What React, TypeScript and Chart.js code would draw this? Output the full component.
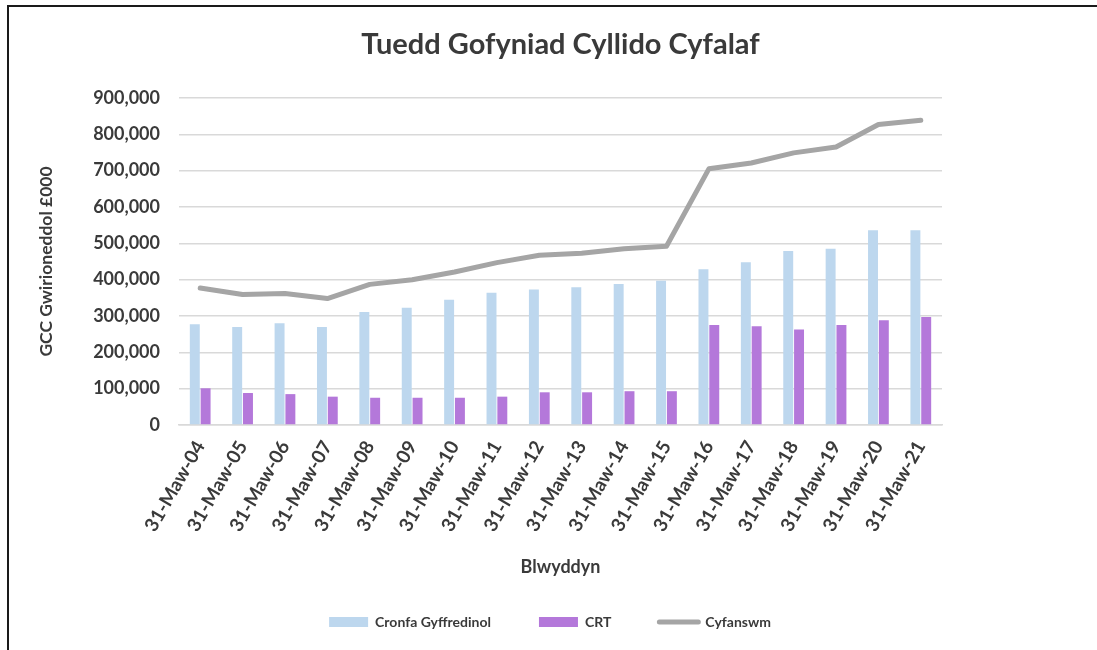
import React, { useEffect, useRef } from 'react';
import { Chart, registerables } from 'chart.js';

Chart.register(...registerables);

const categories = [
  '31-Maw-04', '31-Maw-05', '31-Maw-06', '31-Maw-07', '31-Maw-08', '31-Maw-09',
  '31-Maw-10', '31-Maw-11', '31-Maw-12', '31-Maw-13', '31-Maw-14', '31-Maw-15',
  '31-Maw-16', '31-Maw-17', '31-Maw-18', '31-Maw-19', '31-Maw-20', '31-Maw-21',
];

const cronfaGyffredinol = [
  277000, 270000, 280000, 270000, 311000, 323000, 345000, 364000, 373000,
  379000, 388000, 397000, 429000, 448000, 479000, 485000, 536000, 536000,
];

const crt = [
  101000, 88000, 85000, 78000, 75000, 75000, 75000, 78000, 90000,
  90000, 93000, 93000, 275000, 272000, 263000, 275000, 288000, 297000,
];

const cyfanswm = [
  377000, 359000, 362000, 348000, 387000, 400000, 421000, 447000, 467000,
  473000, 485000, 492000, 705000, 721000, 749000, 765000, 827000, 839000,
];

const seriesNames = ['Cronfa Gyffredinol', 'CRT', 'Cyfanswm'];
const chartTitle = 'Tuedd Gofyniad Cyllido Cyfalaf';
const yAxisTitle = 'GCC Gwirioneddol £000';
const xAxisTitle = 'Blwyddyn';
const yMin = 0;
const yMax = 900000;
const yStep = 100000;

const FONT = 'Lato, "Open Sans", sans-serif';
const TEXT = '#3a3a3a';
const GRID = '#D9D9D9';

export default function App() {
  const ref = useRef<HTMLCanvasElement | null>(null);

  useEffect(() => {
    if (!ref.current) return;
    const chart = new Chart(ref.current, {
      type: 'bar',
      data: {
        labels: categories,
        datasets: [
          {
            type: 'bar',
            label: seriesNames[0],
            data: cronfaGyffredinol,
            backgroundColor: '#BDD7EE',
            categoryPercentage: 0.51,
            barPercentage: 0.92,
            order: 1,
          },
          {
            type: 'bar',
            label: seriesNames[1],
            data: crt,
            backgroundColor: '#B478DA',
            categoryPercentage: 0.51,
            barPercentage: 0.92,
            order: 1,
          },
          {
            type: 'line',
            label: seriesNames[2],
            data: cyfanswm,
            borderColor: '#A5A5A5',
            backgroundColor: '#A5A5A5',
            borderWidth: 5,
            pointRadius: 0,
            tension: 0,
            borderCapStyle: 'round',
            borderJoinStyle: 'round',
            order: 0,
          },
        ],
      } as any,
      options: {
        responsive: false,
        animation: false,
        devicePixelRatio: 1,
        layout: { padding: { left: 3, right: 0, top: 0, bottom: 11 } },
        plugins: {
          tooltip: { enabled: false },
          title: {
            display: true,
            text: chartTitle,
            fullSize: false,
            color: TEXT,
            font: { family: FONT, size: 29, weight: 'bold' },
            padding: { top: 27.6, bottom: 35.6 },
          },
          legend: {
            display: true,
            position: 'bottom',
            fullSize: true,
            labels: {
              color: TEXT,
              font: { family: FONT, size: 14, weight: 'bold' },
              padding: 48,
              usePointStyle: true,
              pointStyleWidth: 39,
              boxHeight: 10,
              generateLabels: (c: any) => {
                const items = (Chart.defaults.plugins.legend.labels as any).generateLabels(c);
                items.sort((a: any, b: any) => a.datasetIndex - b.datasetIndex);
                return items.map((it: any) => {
                  const ds: any = c.data.datasets[it.datasetIndex];
                  if (ds.type === 'line') {
                    return { ...it, pointStyle: 'line', strokeStyle: '#A5A5A5', fillStyle: '#A5A5A5', lineWidth: 5, lineCap: 'round' };
                  }
                  return { ...it, pointStyle: 'rect', lineWidth: 0, strokeStyle: 'rgba(0,0,0,0)' };
                });
              },
            },
          },
        },
        scales: {
          x: {
            grid: { display: false, drawTicks: false },
            border: { display: true, color: GRID, width: 1.5 },
            ticks: {
              color: TEXT,
              font: { family: FONT, size: 19, weight: 'bold' },
              minRotation: 60,
              maxRotation: 60,
              autoSkip: false,
              padding: 12,
            },
            title: {
              display: true,
              text: xAxisTitle,
              color: TEXT,
              font: { family: FONT, size: 18, weight: 'bold' },
              padding: { top: 0, bottom: -10.8 },
            },
            afterFit: (s: any) => { s.height = 142; },
          },
          y: {
            position: 'left',
            min: yMin,
            max: yMax,
            grid: { color: GRID, lineWidth: 1.5, drawTicks: false },
            border: { display: false },
            ticks: {
              stepSize: yStep,
              color: TEXT,
              font: { family: FONT, size: 18, weight: 'bold' },
              padding: 19,
              callback: (v: any) => Number(v).toLocaleString('en-US'),
            },
            title: {
              display: true,
              text: yAxisTitle,
              color: TEXT,
              font: { family: FONT, size: 17.5, weight: 'bold' },
              padding: { top: 32.5, bottom: 0 },
            },
            afterFit: (s: any) => { s.width = 176; },
          },
          spacer: {
            type: 'linear',
            position: 'right',
            display: true,
            grid: { display: false, drawTicks: false },
            border: { display: false },
            ticks: { display: false },
            afterFit: (s: any) => { s.width = 155; },
          },
        },
      } as any,
    });
    return () => chart.destroy();
  }, []);

  return (
    <div style={{ position: 'absolute', left: 0, top: 0, width: 1097, height: 650, overflow: 'hidden', background: '#fff' }}>
      <div style={{ position: 'absolute', left: 7, top: 5, width: 1300, height: 900, borderLeft: '2px solid #1a1a1a', borderTop: '2px solid #1a1a1a' }} />
      <canvas ref={ref} width={1097} height={650} style={{ position: 'absolute', left: 0, top: 0, width: 1097, height: 650 }} />
    </div>
  );
}
